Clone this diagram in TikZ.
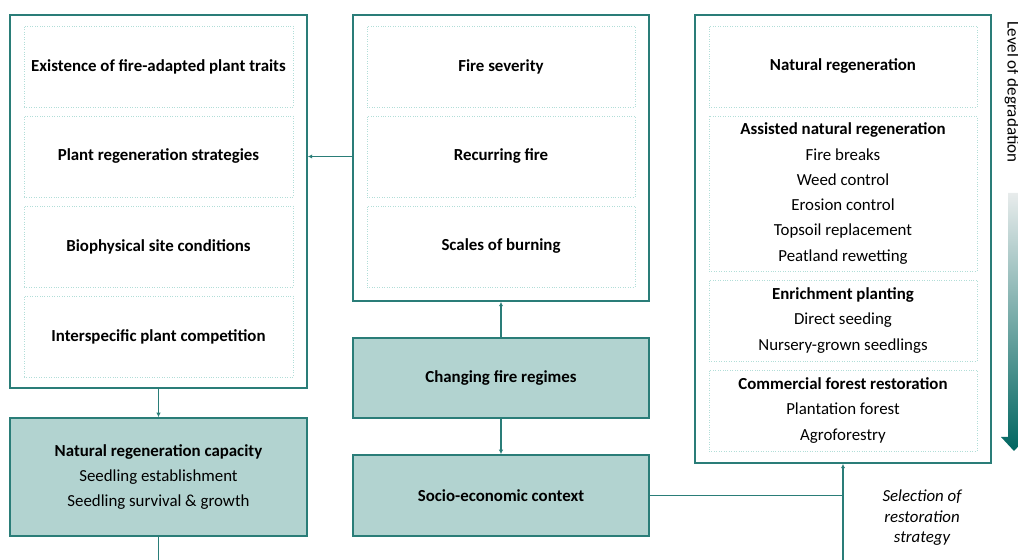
\documentclass[tikz,border=0pt]{standalone}
\usepackage{fontspec}
\setmainfont{Carlito}
\usepackage{tikz}
\definecolor{teal}{RGB}{42,125,120}
\definecolor{lteal}{RGB}{178,211,208}
\definecolor{dotteal}{RGB}{178,222,216}
\definecolor{dteal}{RGB}{0,102,97}
\definecolor{lgrey}{RGB}{232,236,236}
\usetikzlibrary{arrows.meta}
\pgfdeclarelayer{edgelayer}
\pgfdeclarelayer{nodelayer}
\pgfsetlayers{edgelayer,nodelayer,main}
\tikzstyle{frame}=[rectangle,draw=teal,line width=1pt,fill=white,minimum width=5.92cm]
\tikzstyle{cell}=[rectangle,draw=dotteal,densely dotted,line width=0.4pt,minimum width=5.36cm,align=center,font=\fontsize{9.6}{14.4}\selectfont]
\tikzstyle{driver}=[rectangle,draw=teal,line width=1pt,fill=lteal,minimum width=5.92cm,align=center,font=\fontsize{9.6}{14.4}\selectfont]
\tikzstyle{link}=[draw=teal,line width=0.7pt,-{Latex[length=2.5pt,width=2.5pt]}]

\begin{document}
\begin{tikzpicture}[x=0.02cm,y=-0.02cm]
        \useasboundingbox (0,0) rectangle (1018,560);
        \begin{pgfonlayer}{nodelayer}
            % left column
            \node [style = frame, minimum width=5.94cm, minimum height=7.46cm] (plant) at (158.5, 201.5) {};
            \node [style = cell, minimum width=5.38cm, minimum height=1.62cm] (traits) at (158.5, 66.5) {\textbf{Existence of fire-adapted plant traits}};
            \node [style = cell, minimum width=5.38cm, minimum height=1.62cm] (strat) at (158.5, 156.5) {\textbf{Plant regeneration strategies}};
            \node [style = cell, minimum width=5.38cm, minimum height=1.62cm] (site) at (158.5, 246.5) {\textbf{Biophysical site conditions}};
            \node [style = cell, minimum width=5.38cm, minimum height=1.62cm] (comp) at (158.5, 336.5) {\textbf{Interspecific plant competition}};
            \node [style = driver, minimum width=5.94cm, minimum height=2.36cm] (capacity) at (158.5, 477) {\textbf{Natural regeneration capacity}\\Seedling establishment\\Seedling survival \& growth};

            % middle column
            \node [style = frame, minimum height=5.72cm] (fire) at (501, 158) {};
            \node [style = cell, minimum height=1.62cm] (severity) at (501, 66.5) {\textbf{Fire severity}};
            \node [style = cell, minimum height=1.62cm] (recur) at (501, 156.5) {\textbf{Recurring fire}};
            \node [style = cell, minimum height=1.62cm] (scales) at (501, 246.5) {\textbf{Scales of burning}};
            \node [style = driver, minimum height=1.6cm] (regimes) at (501, 378) {\textbf{Changing fire regimes}};
            \node [style = driver, minimum height=1.62cm] (socio) at (501, 495.5) {\textbf{Socio-economic context}};

            % right column
            \node [style = frame, minimum height=8.96cm] (restore) at (843, 239) {};
            \node [style = cell, minimum height=1.62cm] (natural) at (843, 66.5) {\textbf{Natural regeneration}};
            \node [style = cell, minimum height=3.1cm] (assisted) at (843, 193.5) {\textbf{Assisted natural regeneration}\\Fire breaks\\Weed control\\Erosion control\\Topsoil replacement\\Peatland rewetting};
            \node [style = cell, minimum height=1.62cm] (enrich) at (843, 320.5) {\textbf{Enrichment planting}\\Direct seeding\\Nursery-grown seedlings};
            \node [style = cell, minimum height=1.62cm] (commercial) at (843, 410.5) {\textbf{Commercial forest restoration}\\Plantation forest\\Agroforestry};

            \node [align=center, font=\fontsize{9.6}{11.7}\selectfont\itshape] (select) at (922, 518) {Selection of\\restoration\\strategy};
            \node [rotate=-90, font=\fontsize{9.7}{11}\selectfont] (level) at (1012, 92) {Level of degradation};
        \end{pgfonlayer}

        \begin{pgfonlayer}{edgelayer}
            \coordinate (capend) at (158.5, 560);
            \coordinate (selend) at (843, 560);
            \coordinate (join) at (843, 495.5);
            \draw [style = link] (plant) to (capacity);
            \draw [draw=teal, line width=0.7pt] (capacity) to (capend);
            \draw [style = link] (recur -| fire.west) to (recur -| plant.east);
            \draw [style = link] (regimes) to (fire);
            \draw [style = link] (regimes) to (socio);
            \draw [draw=teal, line width=0.7pt] (socio) to (join);
            \draw [style = link] (selend) to (restore);
        \end{pgfonlayer}

        % degradation scale
        \shade [top color=lgrey, bottom color=dteal] (1008,193) -- (1020,193) -- (1020,437) -- (1027,437) -- (1014,451) -- (1001,437) -- (1008,437) -- cycle;
    \end{tikzpicture}
\end{document}
